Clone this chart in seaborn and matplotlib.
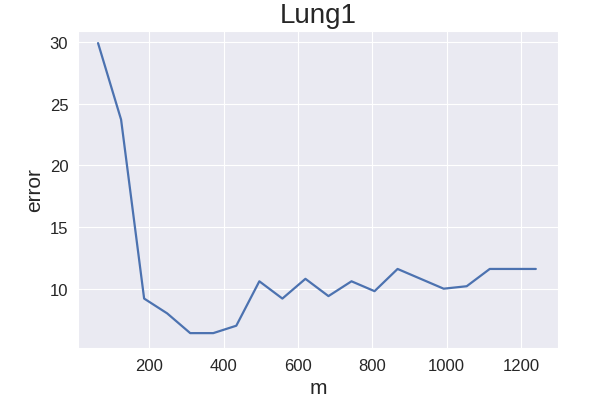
import numpy as np
import pandas as pd
import matplotlib
matplotlib.use("Agg")
import matplotlib.pyplot as plt
import seaborn as sns

m_values = [62, 124, 186, 248, 310, 372, 434, 496, 558, 620,
            682, 744, 806, 868, 930, 992, 1054, 1116, 1178, 1240]
error_values = [29.9, 23.7, 9.2, 8.0, 6.4, 6.4, 7.0, 10.6, 9.2, 10.8,
                9.4, 10.6, 9.8, 11.6, 10.8, 10.0, 10.2, 11.6, 11.6, 11.6]

sns.set_style("darkgrid")
plt.rcParams['font.family'] = ['Liberation Sans', 'DejaVu Sans']

df = pd.DataFrame({'m': m_values, 'error': error_values})

fig = plt.figure(figsize=(6.14, 4.02), dpi=100)
ax = fig.add_axes([0.127, 0.132, 0.782, 0.789])

sns.lineplot(x='m', y='error', data=df, ax=ax, color='#4C72B0', linewidth=1.6)

ax.set_xlim(8, 1300)
ax.set_ylim(5.2, 30.9)
ax.set_xticks([200, 400, 600, 800, 1000, 1200])
ax.set_yticks([10, 15, 20, 25, 30])
ax.tick_params(labelsize=12, colors='.15')
ax.set_title('Lung1', fontsize=20, color='.15')
ax.set_xlabel('m', fontsize=15, color='.15')
ax.set_ylabel('error', fontsize=15, color='.15')

fig.savefig('out.png', dpi=100)
plt.close(fig)
